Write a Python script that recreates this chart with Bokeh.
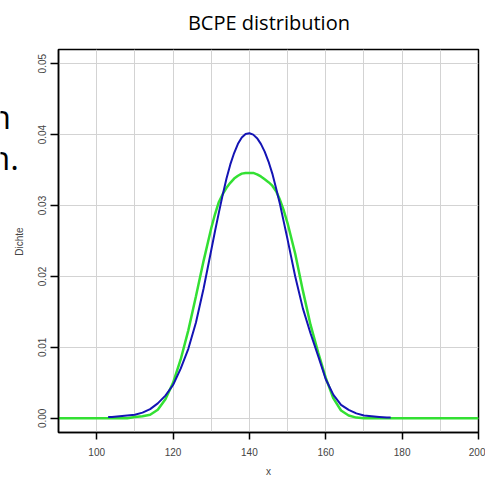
import math
from bokeh.plotting import figure
from bokeh.layouts import row, column
from bokeh.models import Range1d, FixedTicker, PrintfTickFormatter
from bokeh.core.properties import value
from bokeh.embed import file_html
from bokeh.resources import INLINE

# Blue curve (BCPE density)
blue_x = [103, 104, 106, 108, 110, 112, 114, 116, 118, 120, 122, 124, 126, 128,
          130, 131, 132, 133, 134, 135, 136, 137, 138, 139, 140, 141, 142, 143, 144,
          145, 146, 147, 148, 149, 150, 152, 154, 156, 158, 160,
          162, 164, 166, 168, 170, 172, 174, 176, 177]
blue_y = [0.0002, 0.0002, 0.0003, 0.0004, 0.0005, 0.0008, 0.0013, 0.0021, 0.0032, 0.0047,
          0.0070, 0.0098, 0.0135, 0.0183,
          0.0237, 0.0264, 0.0290, 0.0315, 0.0338, 0.0358, 0.0374, 0.0387, 0.0396, 0.0401,
          0.0402, 0.0400, 0.0395, 0.0387, 0.0376, 0.0362, 0.0345, 0.0324, 0.0302, 0.0277,
          0.0252, 0.0200, 0.0155, 0.0120, 0.0088, 0.0055,
          0.0033, 0.0019, 0.0012, 0.0007, 0.0004, 0.0003, 0.0002, 0.0001, 0.0001]

# Green curve
green_x = [90, 100, 106, 108, 110, 112, 114, 116, 118, 120, 122, 124, 126, 128,
           130, 131, 132, 133, 134, 135, 136, 137, 138, 139, 140, 141, 142, 143, 144,
           145, 146, 147, 148, 149, 150, 152, 154, 156, 158, 160, 162,
           164, 166, 168, 170, 180, 190, 200]
green_y = [0.0, 0.0, 0.0, 0.0, 0.0002, 0.0003, 0.0005, 0.0012, 0.0027, 0.0050, 0.0083,
           0.0124, 0.0172, 0.0222,
           0.0268, 0.0288, 0.0305, 0.0316, 0.0325, 0.0332, 0.0338, 0.0342, 0.0345, 0.0346,
           0.0346, 0.0346, 0.0344, 0.0341, 0.0337, 0.0333, 0.0328, 0.0320, 0.0308, 0.0293,
           0.0275, 0.0232, 0.0180, 0.0132, 0.0093, 0.0057, 0.0028,
           0.0011, 0.0004, 0.0001, 0.0, 0.0, 0.0, 0.0]

x_ticks = [100, 120, 140, 160, 180, 200]
y_ticks = [0.00, 0.01, 0.02, 0.03, 0.04, 0.05]
x_grid = [100, 110, 120, 130, 140, 150, 160, 170, 180, 190]
title_text = ["BCPE distribution"]

W, H = 485, 479
side_w = 24
top_h = 48


def blank(width, height):
    f = figure(width=width, height=height, output_backend="svg", toolbar_location=None,
               x_range=Range1d(0, width), y_range=Range1d(0, height),
               x_axis_location=None, y_axis_location=None, min_border=0)
    f.outline_line_color = None
    f.xgrid.visible = False
    f.ygrid.visible = False
    return f


# side strip holding the cut-off slide text and the y-axis title
side_texts = ["n", "n.", "Dichte"]
side = blank(side_w, H)
side.text(x=[10.5, 18.5], y=[H - 115.5, H - 157], text=side_texts[:2],
          text_font=value("Open Sans"), text_font_size="33px", text_color="black",
          text_align="right", text_baseline="alphabetic")
side.text(x=[18.5], y=[H - 241], text=side_texts[2:], angle=math.pi / 2,
          text_font=value("Liberation Sans"), text_font_size="10px", text_color="#444444",
          text_align="center", text_baseline="middle")

# strip holding the title
top = blank(W - side_w, top_h)
top.text(x=[255 - side_w], y=[top_h - 22], text=title_text,
         text_font=value("Open Sans"), text_font_size="20px", text_color="black",
         text_align="center", text_baseline="middle")

p = figure(width=W - side_w, height=H - top_h, output_backend="svg", toolbar_location=None,
           x_range=Range1d(90, 200), y_range=Range1d(-0.002, 0.052),
           min_border_left=58 - side_w, min_border_right=7, min_border_top=1,
           min_border_bottom=46)

p.outline_line_color = "black"
p.outline_line_width = 1.5
p.background_fill_color = "white"
p.border_fill_color = "white"

# grid
p.xgrid.ticker = FixedTicker(ticks=x_grid)
p.ygrid.ticker = FixedTicker(ticks=y_ticks)
for g in (p.xgrid, p.ygrid):
    g.grid_line_color = "#d3d3d3"
    g.grid_line_width = 1

# axes
p.xaxis.ticker = FixedTicker(ticks=x_ticks)
p.yaxis.ticker = FixedTicker(ticks=y_ticks)
p.yaxis.formatter = PrintfTickFormatter(format="%.2f")
p.yaxis.major_label_orientation = "vertical"
for ax in (p.xaxis, p.yaxis):
    ax.axis_line_color = "black"
    ax.axis_line_width = 1.5
    ax.major_tick_line_color = "black"
    ax.major_tick_line_width = 1.5
    ax.major_tick_in = 0
    ax.minor_tick_line_color = None
    ax.major_label_text_font = "Liberation Sans"
    ax.major_label_text_font_size = "10px"
    ax.major_label_text_color = "#444444"
    ax.axis_label_text_font = "Liberation Sans"
    ax.axis_label_text_font_size = "10px"
    ax.axis_label_text_font_style = "normal"
    ax.axis_label_text_color = "#444444"
p.xaxis.major_tick_out = 7
p.xaxis.major_label_standoff = 8
p.xaxis.axis_label = "x"
p.xaxis.axis_label_standoff = 7
p.yaxis.major_tick_out = 8
p.yaxis.major_label_standoff = 4

p.line(green_x, green_y, line_color="#33e033", line_width=2.5)
p.line(blue_x, blue_y, line_color="#1414b4", line_width=2)

layout = row(side, column(top, p, spacing=0), spacing=0)
open("out.html", "w").write(file_html(layout, INLINE))
